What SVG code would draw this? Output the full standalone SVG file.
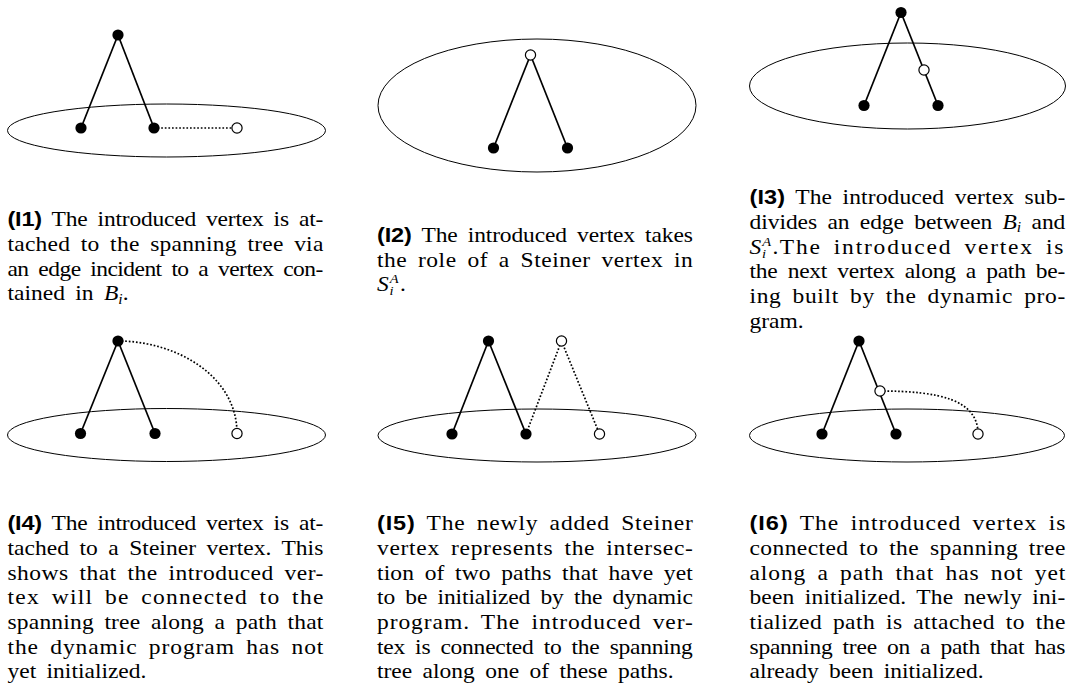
<svg xmlns="http://www.w3.org/2000/svg" width="1068" height="691" viewBox="0 0 1068 691">
<style>
.bound{fill:none;stroke:#000;stroke-width:1}
.edge{fill:none;stroke:#000;stroke-width:1.7}
.dot{fill:none;stroke:#000;stroke-width:1.7;stroke-dasharray:1.7 1.9}
.v{fill:#000}
.iv{fill:#fff;stroke:#000;stroke-width:1.2}
.cap{font-family:"Liberation Serif","Times New Roman",serif;font-size:21px;fill:#000;word-spacing:4px}
.lbl{font-family:"Liberation Sans",Arial,sans-serif;font-weight:bold}
.it{font-style:italic}
.sm{font-size:14px;font-style:italic}
.xs{font-size:13px;font-style:italic}
</style>
<rect width="1068" height="691" fill="#fff"/>

<!-- Panel I1 -->
<g id="p1">
  <ellipse id="p1-bag" class="bound" cx="166.5" cy="130.5" rx="159" ry="26.5"/>
  <g id="p1-connectors">
    <line class="edge" x1="118" y1="35" x2="81" y2="128"/>
    <line class="edge" x1="118" y1="35" x2="154" y2="128"/>
    <line class="dot" x1="154" y1="128" x2="237" y2="128"/>
  </g>
  <g id="p1-top"><circle class="v" cx="118" cy="35" r="5.6"/></g>
  <g id="p1-left"><circle class="v" cx="81" cy="128" r="5.6"/></g>
  <g id="p1-right"><circle class="v" cx="154" cy="128" r="5.6"/></g>
  <g id="p1-new"><circle class="iv" cx="237" cy="128" r="5.1"/></g>
</g>

<!-- Panel I2 -->
<g id="p2">
  <ellipse id="p2-bag" class="bound" cx="537" cy="105.5" rx="159" ry="66.5"/>
  <g id="p2-connectors">
    <line class="edge" x1="530.5" y1="55" x2="493.5" y2="148"/>
    <line class="edge" x1="530.5" y1="55" x2="567.5" y2="148"/>
  </g>
  <g id="p2-new"><circle class="iv" cx="530.5" cy="55" r="5.1"/></g>
  <g id="p2-left"><circle class="v" cx="493.5" cy="148" r="5.6"/></g>
  <g id="p2-right"><circle class="v" cx="567.5" cy="148" r="5.6"/></g>
</g>

<!-- Panel I3 -->
<g id="p3">
  <ellipse id="p3-bag" class="bound" cx="907.5" cy="86" rx="158" ry="43"/>
  <g id="p3-connectors">
    <line class="edge" x1="901" y1="12.5" x2="864" y2="105.5"/>
    <line class="edge" x1="901" y1="12.5" x2="938" y2="105.5"/>
  </g>
  <g id="p3-top"><circle class="v" cx="901" cy="12.5" r="5.6"/></g>
  <g id="p3-new"><circle class="iv" cx="924" cy="70" r="5.1"/></g>
  <g id="p3-left"><circle class="v" cx="864" cy="105.5" r="5.6"/></g>
  <g id="p3-right"><circle class="v" cx="938" cy="105.5" r="5.6"/></g>
</g>

<!-- Panel I4 -->
<g id="p4">
  <ellipse id="p4-bag" class="bound" cx="166.5" cy="435" rx="159" ry="26.5"/>
  <g id="p4-connectors">
    <line class="edge" x1="118" y1="341" x2="80.5" y2="433.5"/>
    <line class="edge" x1="118" y1="341" x2="155" y2="433.5"/>
    <path class="dot" d="M118,341 C175,341 237,375 237,433.5"/>
  </g>
  <g id="p4-top"><circle class="v" cx="118" cy="341" r="5.6"/></g>
  <g id="p4-left"><circle class="v" cx="80.5" cy="433.5" r="5.6"/></g>
  <g id="p4-right"><circle class="v" cx="155" cy="433.5" r="5.6"/></g>
  <g id="p4-new"><circle class="iv" cx="237" cy="433.5" r="5.1"/></g>
</g>

<!-- Panel I5 -->
<g id="p5">
  <ellipse id="p5-bag" class="bound" cx="537" cy="435.5" rx="159" ry="26.5"/>
  <g id="p5-connectors">
    <line class="edge" x1="488.5" y1="341" x2="452" y2="434"/>
    <line class="edge" x1="488.5" y1="341" x2="526" y2="434"/>
    <line class="dot" x1="526" y1="434" x2="561.5" y2="341"/>
    <line class="dot" x1="561.5" y1="341" x2="599.5" y2="434"/>
  </g>
  <g id="p5-top"><circle class="v" cx="488.5" cy="341" r="5.6"/></g>
  <g id="p5-steiner"><circle class="iv" cx="561.5" cy="341" r="5.1"/></g>
  <g id="p5-left"><circle class="v" cx="452" cy="434" r="5.6"/></g>
  <g id="p5-mid"><circle class="v" cx="526" cy="434" r="5.6"/></g>
  <g id="p5-new"><circle class="iv" cx="599.5" cy="434" r="5.1"/></g>
</g>

<!-- Panel I6 -->
<g id="p6">
  <ellipse id="p6-bag" class="bound" cx="907" cy="435.5" rx="157.5" ry="26.5"/>
  <g id="p6-connectors">
    <line class="edge" x1="859" y1="341" x2="822" y2="434"/>
    <line class="edge" x1="859" y1="341" x2="896" y2="434"/>
    <path class="dot" d="M880,391 C940,391 978,400 978,434"/>
  </g>
  <g id="p6-top"><circle class="v" cx="859" cy="341" r="5.6"/></g>
  <g id="p6-sub"><circle class="iv" cx="880" cy="391" r="5.1"/></g>
  <g id="p6-left"><circle class="v" cx="822" cy="434" r="5.6"/></g>
  <g id="p6-right"><circle class="v" cx="896" cy="434" r="5.6"/></g>
  <g id="p6-new"><circle class="iv" cx="978" cy="434" r="5.1"/></g>
</g>

<!-- Captions -->
<g id="cap1" class="cap" transform="translate(7.5 0) scale(1.12 1)">
  <text x="0" y="226.5" textLength="282" lengthAdjust="spacing"><tspan class="lbl">(I1)</tspan> The introduced vertex is at-</text>
  <text x="0" y="251" textLength="282" lengthAdjust="spacing">tached to the spanning tree via</text>
  <text x="0" y="276" textLength="282" lengthAdjust="spacing">an edge incident to a vertex con-</text>
  <text x="0" y="300.5">tained in <tspan class="it">B</tspan><tspan class="sm" dy="3.5">i</tspan><tspan dy="-3.5">.</tspan></text>
</g>

<g id="cap2" class="cap" transform="translate(377 0) scale(1.12 1)">
  <text x="0" y="242.5" textLength="282" lengthAdjust="spacing"><tspan class="lbl">(I2)</tspan> The introduced vertex takes</text>
  <text x="0" y="267" textLength="282" lengthAdjust="spacing">the role of a Steiner vertex in</text>
  <text x="0" y="291.5"><tspan class="it">S</tspan><tspan class="xs" x="11.4" dy="-8">A</tspan><tspan class="xs" x="11.2" dy="12">i</tspan><tspan x="20.5" dy="-4">.</tspan></text>
</g>

<g id="cap3" class="cap" transform="translate(749.5 0) scale(1.12 1)">
  <text x="0" y="204.5" textLength="282" lengthAdjust="spacing"><tspan class="lbl">(I3)</tspan> The introduced vertex sub-</text>
  <text x="0" y="229" textLength="282" lengthAdjust="spacing">divides an edge between <tspan class="it">B</tspan><tspan class="sm" dy="3.5">i</tspan><tspan dy="-3.5"> and</tspan></text>
  <text x="0" y="254"><tspan class="it">S</tspan><tspan class="xs" x="11.4" dy="-8">A</tspan><tspan class="xs" x="11.2" dy="12">i</tspan><tspan x="20.5" dy="-4">.</tspan><tspan x="27" letter-spacing="1.6">The introduced vertex is</tspan></text>
  <text x="0" y="278.5" textLength="282" lengthAdjust="spacing">the next vertex along a path be-</text>
  <text x="0" y="303" textLength="282" lengthAdjust="spacing">ing built by the dynamic pro-</text>
  <text x="0" y="328">gram.</text>
</g>

<g id="cap4" class="cap" transform="translate(7.5 0) scale(1.12 1)">
  <text x="0" y="530.5" textLength="282" lengthAdjust="spacing"><tspan class="lbl">(I4)</tspan> The introduced vertex is at-</text>
  <text x="0" y="555" textLength="282" lengthAdjust="spacing">tached to a Steiner vertex. This</text>
  <text x="0" y="580" textLength="282" lengthAdjust="spacing">shows that the introduced ver-</text>
  <text x="0" y="604.5" textLength="282" lengthAdjust="spacing">tex will be connected to the</text>
  <text x="0" y="629" textLength="282" lengthAdjust="spacing">spanning tree along a path that</text>
  <text x="0" y="654" textLength="282" lengthAdjust="spacing">the dynamic program has not</text>
  <text x="0" y="678.5">yet initialized.</text>
</g>

<g id="cap5" class="cap" transform="translate(377 0) scale(1.12 1)">
  <text x="0" y="530.5" textLength="282" lengthAdjust="spacing"><tspan class="lbl">(I5)</tspan> The newly added Steiner</text>
  <text x="0" y="555" textLength="282" lengthAdjust="spacing">vertex represents the intersec-</text>
  <text x="0" y="580" textLength="282" lengthAdjust="spacing">tion of two paths that have yet</text>
  <text x="0" y="604.5" textLength="282" lengthAdjust="spacing">to be initialized by the dynamic</text>
  <text x="0" y="629" textLength="282" lengthAdjust="spacing">program. The introduced ver-</text>
  <text x="0" y="654" textLength="282" lengthAdjust="spacing">tex is connected to the spanning</text>
  <text x="0" y="678.5">tree along one of these paths.</text>
</g>

<g id="cap6" class="cap" transform="translate(749.5 0) scale(1.12 1)">
  <text x="0" y="530.5" textLength="282" lengthAdjust="spacing"><tspan class="lbl">(I6)</tspan> The introduced vertex is</text>
  <text x="0" y="555" textLength="282" lengthAdjust="spacing">connected to the spanning tree</text>
  <text x="0" y="580" textLength="282" lengthAdjust="spacing">along a path that has not yet</text>
  <text x="0" y="604.5" textLength="282" lengthAdjust="spacing">been initialized. The newly ini-</text>
  <text x="0" y="629" textLength="282" lengthAdjust="spacing">tialized path is attached to the</text>
  <text x="0" y="654" textLength="282" lengthAdjust="spacing">spanning tree on a path that has</text>
  <text x="0" y="678.5">already been initialized.</text>
</g>
</svg>
